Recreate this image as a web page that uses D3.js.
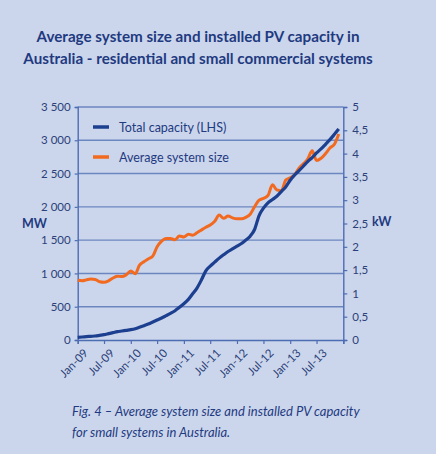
<!DOCTYPE html>
<html>
<head>
<meta charset="utf-8">
<script src="https://cdn.jsdelivr.net/npm/d3@7"></script>
<style>
  body { margin: 0; background: #cbd6ec; }
  svg { display: block; }
</style>
</head>
<body>
<svg id="chart" width="436" height="454"></svg>
<script>
// months from Jan-09 to Dec-13
var startMonth = new Date(2009, 0, 1);
var monthCount = 60;

// total installed capacity, MW (left axis)
var totalCapacity = [
  40, 45, 50, 55, 60, 70, 80, 95, 110, 125, 135, 145,
  155, 170, 190, 215, 240, 270, 300, 330, 365, 400, 440, 490,
  545, 610, 690, 780, 900, 1040, 1110, 1170, 1230, 1280, 1330, 1370,
  1410, 1450, 1500, 1560, 1660, 1870, 1980, 2060, 2110, 2160, 2230, 2300,
  2400, 2480, 2540, 2610, 2680, 2740, 2810, 2870, 2940, 3010, 3090, 3170
];

// average system size, kW (right axis)
var avgSystemSize = [
  1.28, 1.27, 1.29, 1.31, 1.30, 1.25, 1.24, 1.27, 1.33, 1.37, 1.36, 1.40,
  1.48, 1.42, 1.60, 1.68, 1.74, 1.80, 2.00, 2.12, 2.18, 2.18, 2.15, 2.23,
  2.21, 2.27, 2.25, 2.30, 2.36, 2.42, 2.47, 2.55, 2.68, 2.61, 2.66, 2.62,
  2.60, 2.60, 2.63, 2.70, 2.86, 3.00, 3.04, 3.10, 3.33, 3.22, 3.20, 3.43,
  3.48, 3.55, 3.68, 3.78, 3.88, 4.06, 3.85, 3.90, 4.00, 4.12, 4.20, 4.42
];

var leftTicks = [0, 500, 1000, 1500, 2000, 2500, 3000, 3500];
var rightTicks = [0, 0.5, 1, 1.5, 2, 2.5, 3, 3.5, 4, 4.5, 5];

var seriesNames = ["Total capacity (LHS)", "Average system size"];
var seriesColors = ["#1d3f8f", "#f26a1f"];

var titleLines = [
  "Average system size and installed PV capacity in",
  "Australia - residential and small commercial systems"
];
var captionLines = [
  "Fig. 4 \u2013 Average system size and installed PV capacity",
  "for small systems in Australia."
];

var textColor = "#1f3a80";
var axisColor = "#4d6db3";
var gridColor = "#6c86bf";
var fontFamily = "Lato, 'Open Sans', sans-serif";

var locale = d3.formatLocale({ decimal: ",", thousands: " ", grouping: [3], currency: ["", ""] });
var fmtLeft = locale.format(",");
var fmtRight = locale.format("");

var svg = d3.select("#chart");

var plotLeft = 77.7, plotRight = 343.3, plotTop = 107, plotBottom = 340;

var dates = d3.range(monthCount).map(function (i) { return d3.timeMonth.offset(startMonth, i); });

var x = d3.scaleTime()
  .domain([startMonth, d3.timeMonth.offset(startMonth, monthCount)])
  .range([plotLeft, plotRight]);
var yL = d3.scaleLinear().domain([0, 3500]).range([plotBottom, plotTop]);
var yR = d3.scaleLinear().domain([0, 5]).range([plotBottom, plotTop]);

// title
svg.append("g").selectAll("text")
  .data(titleLines)
  .join("text")
  .attr("x", 198)
  .attr("y", function (d, i) { return 42 + i * 22; })
  .attr("text-anchor", "middle")
  .attr("font-family", fontFamily)
  .attr("font-weight", "bold")
  .attr("font-size", 15.2)
  .attr("fill", textColor)
  .text(function (d) { return d; });

// gridlines
svg.append("g").selectAll("line")
  .data(leftTicks.filter(function (d) { return d > 0; }))
  .join("line")
  .attr("x1", plotLeft).attr("x2", plotRight)
  .attr("y1", function (d) { return yL(d); })
  .attr("y2", function (d) { return yL(d); })
  .attr("stroke", gridColor)
  .attr("stroke-width", 1.4);

// left axis
var gLeft = svg.append("g")
  .attr("transform", "translate(" + plotLeft + ",0)")
  .call(d3.axisLeft(yL).tickValues(leftTicks).tickFormat(fmtLeft).tickSize(3).tickPadding(4));

// right axis
var gRight = svg.append("g")
  .attr("transform", "translate(" + plotRight + ",0)")
  .call(d3.axisRight(yR).tickValues(rightTicks).tickFormat(fmtRight).tickSize(4).tickPadding(5));

// bottom axis
var xTicks = d3.range(0, monthCount + 1, 6).map(function (i) { return d3.timeMonth.offset(startMonth, i); });
var fmtX = d3.timeFormat("%b-%y");
var gBottom = svg.append("g")
  .attr("transform", "translate(0," + plotBottom + ")")
  .call(d3.axisBottom(x).tickValues(xTicks).tickSize(4)
    .tickFormat(function (d) { return d.getFullYear() >= 2014 ? "" : fmtX(d); }));

gBottom.selectAll("text")
  .attr("text-anchor", "end")
  .attr("dx", "-0.2em")
  .attr("dy", "0.9em")
  .attr("transform", "rotate(-45)");

[gLeft, gRight, gBottom].forEach(function (g) {
  g.select(".domain").attr("stroke", axisColor).attr("stroke-width", 1.4);
  g.selectAll(".tick line").attr("stroke", axisColor).attr("stroke-width", 1.2);
  g.selectAll("text")
    .attr("fill", "#2b3f78")
    .attr("font-family", fontFamily)
    .attr("font-size", 11.5);
});

// axis unit labels
svg.append("text")
  .attr("x", 22).attr("y", 228)
  .attr("font-family", fontFamily)
  .attr("font-weight", "bold").attr("font-size", 12.5)
  .attr("fill", textColor)
  .text("MW");
svg.append("text")
  .attr("x", 372).attr("y", 226)
  .attr("font-family", fontFamily)
  .attr("font-weight", "bold").attr("font-size", 12.5)
  .attr("fill", textColor)
  .text("kW");

// lines
var lineL = d3.line()
  .x(function (d, i) { return x(dates[i]); })
  .y(function (d) { return yL(d); })
  .curve(d3.curveMonotoneX);
var lineR = d3.line()
  .x(function (d, i) { return x(dates[i]); })
  .y(function (d) { return yR(d); })
  .curve(d3.curveMonotoneX);

svg.append("path")
  .datum(avgSystemSize)
  .attr("d", lineR)
  .attr("fill", "none")
  .attr("stroke", seriesColors[1])
  .attr("stroke-width", 3)
  .attr("stroke-linejoin", "round");

svg.append("path")
  .datum(totalCapacity)
  .attr("d", lineL)
  .attr("fill", "none")
  .attr("stroke", seriesColors[0])
  .attr("stroke-width", 3.2)
  .attr("stroke-linejoin", "round");

// legend
var legend = svg.append("g").selectAll("g")
  .data(seriesNames)
  .join("g")
  .attr("transform", function (d, i) { return "translate(93," + (127 + i * 30) + ")"; });
legend.append("line")
  .attr("x1", 0).attr("x2", 16)
  .attr("stroke", function (d, i) { return seriesColors[i]; })
  .attr("stroke-width", 3.5);
legend.append("text")
  .attr("x", 26).attr("y", 4.5)
  .attr("font-family", fontFamily)
  .attr("font-size", 12.5)
  .attr("fill", textColor)
  .text(function (d) { return d; });

// caption
svg.append("g").selectAll("text")
  .data(captionLines)
  .join("text")
  .attr("x", 72)
  .attr("y", function (d, i) { return 416 + i * 21; })
  .attr("font-family", fontFamily)
  .attr("font-style", "italic")
  .attr("font-size", 13)
  .attr("fill", textColor)
  .text(function (d) { return d; });
</script>
</body>
</html>
